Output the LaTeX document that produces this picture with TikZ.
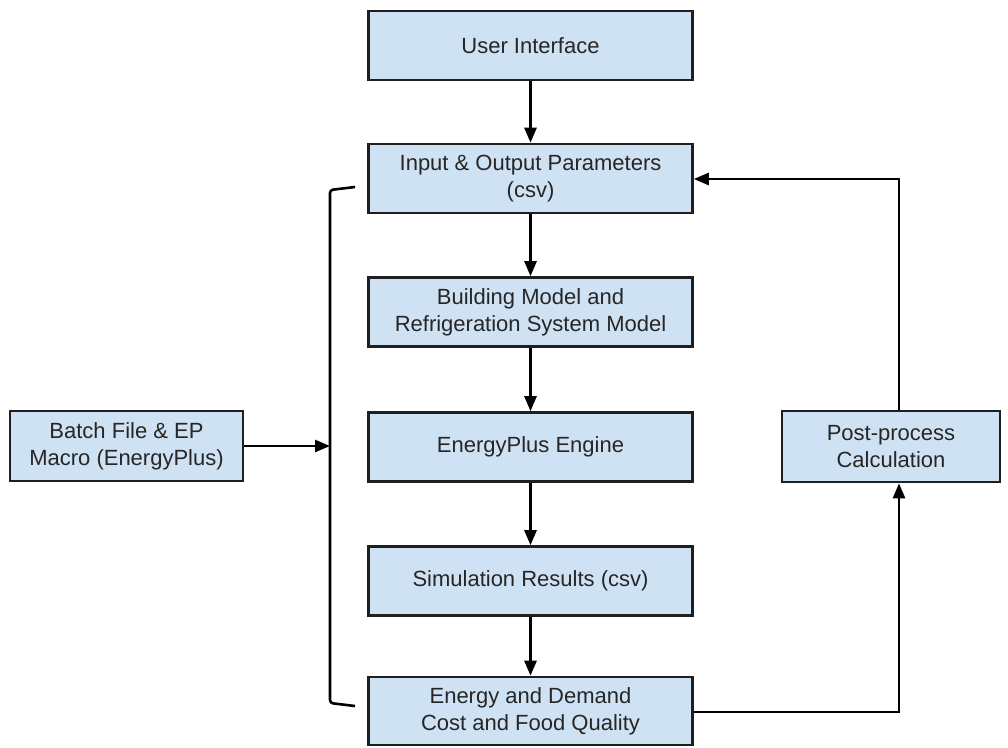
\documentclass[tikz,border=0pt]{standalone}
\usepackage{fontspec}
\setmainfont{Liberation Sans}
\usetikzlibrary{arrows.meta}
\definecolor{boxfill}{HTML}{CFE2F3}
\definecolor{boxline}{HTML}{1F1F1F}
\definecolor{txt}{HTML}{262626}
\begin{document}
\begin{tikzpicture}[x=1pt,y=-1pt,
  box/.style={draw=boxline, line width=2.6pt, fill=boxfill, text=txt,
    font=\fontsize{22}{27}\selectfont, align=center, inner sep=0pt},
  conn/.style={draw=black, line width=2.6pt, -{Triangle[length=15pt,width=12pt]}},
  plain/.style={draw=black, line width=2.6pt}]
\useasboundingbox (0,0) rectangle (1008,747);
\node[box, minimum width=324pt, minimum height=69pt] (ui) at (530.5,45.5) {User Interface};
\node[box, minimum width=324pt, minimum height=69pt] (io) at (530.5,178.5) {Input \& Output Parameters\\(csv)};
\node[box, minimum width=324pt, minimum height=69pt] (bm) at (530.5,312) {Building Model and\\Refrigeration System Model};
\node[box, minimum width=324pt, minimum height=69pt] (ep) at (530.5,447) {EnergyPlus Engine};
\node[box, minimum width=324pt, minimum height=69pt] (sr) at (530.5,581) {Simulation Results (csv)};
\node[box, minimum width=324pt, minimum height=68pt] (ed) at (530.5,711) {Energy and Demand\\Cost and Food Quality};
\node[box, minimum width=233pt, minimum height=70pt] (bf) at (126.5,446) {Batch File \& EP\\Macro (EnergyPlus)};
\node[box, minimum width=218pt, minimum height=71pt] (pp) at (891,446.5) {Post-process\\Calculation};
\coordinate (bt) at (355,187);
\coordinate (bb) at (355,706);
\coordinate (bmid) at (330,446);
\draw[plain, rounded corners=3pt] (bt) -- (330,190) -- (330,703) -- (bb);
\draw[conn] (ui) -- (io);
\draw[conn] (io) -- (bm);
\draw[conn] (bm) -- (ep);
\draw[conn] (ep) -- (sr);
\draw[conn] (sr) -- (ed);
\draw[conn] (bf.east) -- (bmid);
\draw[conn] (ed.east |- 0,712) -| (pp.south -| 899,0);
\draw[conn] (pp.north -| 899,0) |- (io.east |- 0,179);
\end{tikzpicture}
\end{document}
